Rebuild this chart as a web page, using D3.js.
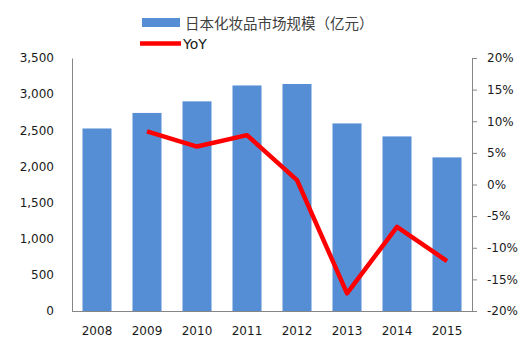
<!DOCTYPE html>
<html><head><meta charset="utf-8">
<script src="https://cdn.jsdelivr.net/npm/d3@7"></script>
<style>body{margin:0;background:#fff}svg{display:block}</style>
</head><body>
<svg id="c" width="529" height="356"></svg>
<script>
const years = ["2008","2009","2010","2011","2012","2013","2014","2015"];
const marketSize = [2525, 2740, 2900, 3120, 3140, 2595, 2415, 2125];
const yoyYears = ["2009","2010","2011","2012","2013","2014","2015"];
const yoy = [8.4, 6.0, 7.8, 0.7, -17.2, -6.7, -12.1];
const leftTicks = [0,500,1000,1500,2000,2500,3000,3500];
const rightTicks = [-20,-15,-10,-5,0,5,10,15,20];
const barLabel = "日本化妆品市场规模（亿元）";
const lineLabel = "YoY";

const svg = d3.select("#c");
const L = 72, R = 472, T = 58, B = 311;
const x = d3.scaleBand().domain(years).range([L, R]).paddingInner(0.42).paddingOuter(0.21);
const yL = d3.scaleLinear().domain([0, 3500]).range([B, T]);
const yR = d3.scaleLinear().domain([-20, 20]).range([B, T]);
const font = "'DejaVu Sans', Verdana, sans-serif";

// bars
svg.append("g").selectAll("rect").data(years).join("rect")
  .attr("x", d => x(d)).attr("width", x.bandwidth())
  .attr("y", (d,i) => yL(marketSize[i])).attr("height", (d,i) => B - yL(marketSize[i]))
  .attr("fill", "#558ed5");

// left axis
const gL = svg.append("g").attr("transform", `translate(${L},0)`)
  .call(d3.axisLeft(yL).tickValues(leftTicks).tickSize(0).tickPadding(18).tickFormat(d3.format(",")));
gL.select(".domain").attr("stroke", "#868686");
gL.selectAll("text").attr("font-family", font).attr("font-size", 12).attr("fill", "#1a1a1a");

// right axis
const gR = svg.append("g").attr("transform", `translate(${R},0)`)
  .call(d3.axisRight(yR).tickValues(rightTicks).tickSize(5).tickPadding(10).tickFormat(d => d + "%"));
gR.select(".domain").attr("stroke", "#868686");
gR.selectAll(".tick line").attr("stroke", "#868686");
gR.selectAll("text").attr("font-family", font).attr("font-size", 12).attr("fill", "#1a1a1a");

// x axis
const gX = svg.append("g").attr("transform", `translate(0,${B})`)
  .call(d3.axisBottom(x).tickSize(0).tickPadding(15));
gX.select(".domain").attr("stroke", "#868686").attr("d", `M${L},0.5H${R}`);
gX.selectAll("text").attr("font-family", font).attr("font-size", 12).attr("fill", "#1a1a1a");

// line
const line = d3.line().x((d,i) => x(yoyYears[i]) + x.bandwidth()/2).y(d => yR(d));
svg.append("path").datum(yoy).attr("d", line)
  .attr("fill", "none").attr("stroke", "#ff0000").attr("stroke-width", 4.5)
  .attr("stroke-linejoin", "round");

// legend
svg.append("rect").attr("x", 142).attr("y", 18).attr("width", 38).attr("height", 9).attr("fill", "#558ed5");
svg.append("text").attr("x", 185).attr("y", 22).attr("dominant-baseline", "central")
  .attr("font-family", "'Noto Sans CJK SC', sans-serif").attr("font-size", 14.5).attr("fill", "#404040").text(barLabel);
svg.append("line").attr("x1", 140).attr("x2", 181).attr("y1", 43.5).attr("y2", 43.5)
  .attr("stroke", "#ff0000").attr("stroke-width", 4.5);
svg.append("text").attr("x", 183).attr("y", 44).attr("dominant-baseline", "central")
  .attr("font-family", font).attr("font-size", 14).attr("fill", "#1a1a1a").text(lineLabel);
</script>
</body></html>
